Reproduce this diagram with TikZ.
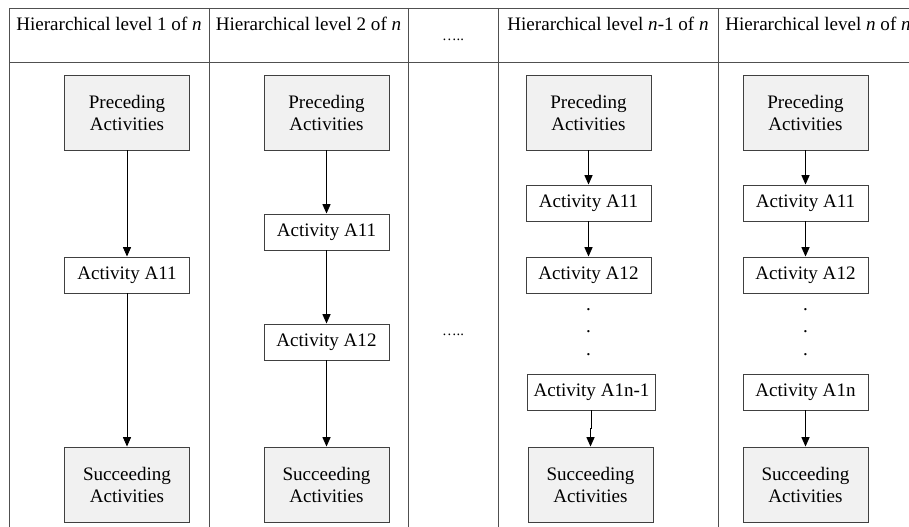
\documentclass[tikz,border=0pt]{standalone}
\usepackage{fontspec}
\setmainfont{Liberation Serif}
\usetikzlibrary{arrows.meta}
\definecolor{rule}{HTML}{505050}
\definecolor{boxline}{HTML}{404040}
\definecolor{boxfill}{HTML}{F1F1F1}
\begin{document}
\begin{tikzpicture}[x=0.75pt,y=-0.75pt,
  every node/.style={font=\fontsize{14.3pt}{16.5pt}\selectfont},
  grid/.style={draw=rule,line width=0.7pt},
  endbox/.style={draw=boxline,fill=boxfill,line width=0.7pt,align=center,
    minimum width=93.75pt,minimum height=56.25pt,inner xsep=4.5pt},
  actbox/.style={draw=boxline,fill=white,line width=0.7pt,
    minimum width=93.75pt,minimum height=27pt,inner xsep=4.5pt,inner ysep=0pt},
  head/.style={anchor=base},
  dot/.style={inner sep=0pt},
  arr/.style={draw=black,line width=0.7pt,-{Triangle[width=6pt,length=7pt]}}]
\useasboundingbox (0,0) rectangle (909,527);

% table frame
\draw[grid] (909,8) -- (9,8) -- (9,527);
\draw[grid] (9,62) -- (909,62);
\foreach \x in {209,408,498,718} \draw[grid] (\x,8) -- (\x,527);

% column headings
\node[head] (h1) at (109,31) {Hierarchical level 1 of \textit{n}};
\node[head] (h2) at (308.5,31) {Hierarchical level 2 of \textit{n}};
\node (h3) at (453,40) {\fontsize{11pt}{12pt}\selectfont …..};
\node[head] (h4) at (608,31) {Hierarchical level \textit{n}-1 of \textit{n}};
\node[head] (h5) at (818,31) {Hierarchical level \textit{n} of \textit{n}};
\node (m3) at (453,335) {\fontsize{11pt}{12pt}\selectfont …..};

% level 1
\node[endbox] (p1) at (127,112.5) {Preceding\\Activities};
\node[actbox] (a1) at (127,275) {Activity A11};
\node[endbox] (s1) at (127,484.5) {Succeeding\\Activities};
\draw[arr] (p1.south) -- (a1.north);
\draw[arr] (a1.south) -- (s1.north);

% level 2
\node[endbox] (p2) at (326.5,112.5) {Preceding\\Activities};
\node[actbox] (a21) at (326.5,232) {Activity A11};
\node[actbox] (a22) at (326.5,342) {Activity A12};
\node[endbox] (s2) at (326.5,484.5) {Succeeding\\Activities};
\draw[arr] (p2.south) -- (a21.north);
\draw[arr] (a21.south) -- (a22.north);
\draw[arr] (a22.south) -- (s2.north);

% level n-1
\node[endbox] (p4) at (588.5,112.5) {Preceding\\Activities};
\node[actbox] (a41) at (588.5,203) {Activity A11};
\node[actbox] (a42) at (588.5,275) {Activity A12};
\node[dot] (d41) at (588.5,310) {.};
\node[dot] (d42) at (588.5,332) {.};
\node[dot] (d43) at (588.5,355) {.};
\node[actbox] (a4n) at (591.5,392) {Activity A1n-1};
\node[endbox] (s4) at (590.5,484.5) {Succeeding\\Activities};
\draw[arr] (p4.south) -- (a41.north);
\draw[arr] (a41.south) -- (a42.north);
\draw[arr] (a4n.south) -- ++(0,18) -| (s4.north);

% level n
\node[endbox] (p5) at (805.5,112.5) {Preceding\\Activities};
\node[actbox] (a51) at (805.5,203) {Activity A11};
\node[actbox] (a52) at (805.5,275) {Activity A12};
\node[dot] (d51) at (805.5,310) {.};
\node[dot] (d52) at (805.5,332) {.};
\node[dot] (d53) at (805.5,355) {.};
\node[actbox] (a5n) at (805.5,392) {Activity A1n};
\node[endbox] (s5) at (805.5,484.5) {Succeeding\\Activities};
\draw[arr] (p5.south) -- (a51.north);
\draw[arr] (a51.south) -- (a52.north);
\draw[arr] (a5n.south) -- (s5.north);
\end{tikzpicture}
\end{document}
